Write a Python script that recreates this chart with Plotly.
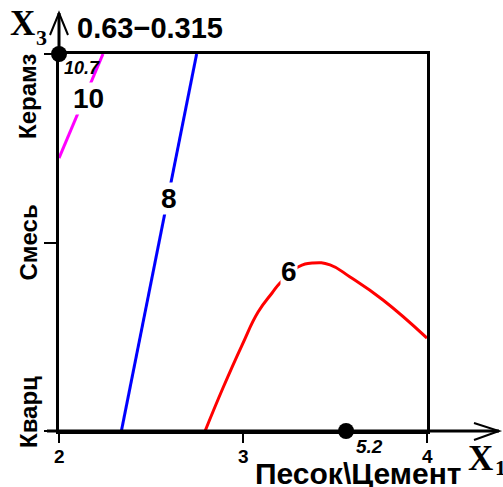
import plotly.graph_objects as go

# ---- data ----
x_ticks = [2, 3, 4]
x_tick_labels = ["2", "3", "4"]
y_ticks = [-1, 0, 1]
y_tick_labels = ["Кварц", "Смесь", "Керамз"]

c10_x = [2.0, 2.239]
c10_y = [0.448, 1.0]
c8_x = [2.339, 2.748]
c8_y = [-1.0, 1.0]
c6_x = [2.794, 2.891, 2.995, 3.082, 3.158, 3.201, 3.299, 3.380, 3.473, 3.582, 3.761, 4.0]
c6_y = [-1.0, -0.772, -0.544, -0.369, -0.268, -0.215, -0.130, -0.109, -0.119, -0.183, -0.305, -0.507]

contour_labels = ["10", "8", "6"]
contour_label_x = [2.158, 2.598, 3.250]
contour_label_y = [0.764, 0.233, -0.154]

opt_x = [2.0, 3.56]
opt_y = [1.0, -1.0]
opt_labels = ["10.7", "5.2"]

title_text = "0.63\u22120.315"
x_title = "Песок\\Цемент"

W, H = 503, 487
L, R, T, B = 59, 427, 54, 431


def px(xp):
    return (xp - L) / (R - L)


def py(yp):
    return (B - yp) / (B - T)


fig = go.Figure()
fig.add_trace(go.Scatter(x=c10_x, y=c10_y, mode="lines",
                         line=dict(color="#ff00ff", width=3), cliponaxis=False))
fig.add_trace(go.Scatter(x=c8_x, y=c8_y, mode="lines",
                         line=dict(color="#0000ff", width=3), cliponaxis=False))
fig.add_trace(go.Scatter(x=c6_x, y=c6_y, mode="lines",
                         line=dict(color="#ff0000", width=3, shape="spline", smoothing=1.3),
                         cliponaxis=False))
fig.add_trace(go.Scatter(x=opt_x, y=opt_y, mode="markers",
                         marker=dict(color="black", size=16), cliponaxis=False))

ann = []
for t, x, y in zip(contour_labels, contour_label_x, contour_label_y):
    ann.append(dict(x=x, y=y, text="<b>%s</b>" % t, showarrow=False,
                    xanchor="center", yanchor="middle",
                    font=dict(family="Liberation Sans", size=28, color="black"),
                    bgcolor="white", borderpad=0))
# optimum values
ann.append(dict(x=opt_x[0], y=opt_y[0], text="<b><i>%s</i></b>" % opt_labels[0], showarrow=False,
                xanchor="left", yanchor="top", xshift=3, yshift=-2,
                font=dict(family="Liberation Sans", size=18, color="black")))
ann.append(dict(x=opt_x[1], y=opt_y[1], text="<b><i>%s</i></b>" % opt_labels[1], showarrow=False,
                xanchor="left", yanchor="top", xshift=8, yshift=-3,
                font=dict(family="Liberation Sans", size=19, color="black")))
# x tick labels
for t, v in zip(x_tick_labels, x_ticks):
    ann.append(dict(x=v, y=py(457), yref="paper", text="<b>%s</b>" % t, showarrow=False,
                    xanchor="center", yanchor="middle",
                    font=dict(family="Liberation Sans", size=19, color="black")))
# y category labels
y_label_pos = [412, 242.5, 97]
for t, yp in zip(y_tick_labels, y_label_pos):
    ann.append(dict(x=px(28), y=py(yp), xref="paper", yref="paper", text="<b>%s</b>" % t,
                    textangle=-90, showarrow=False, xanchor="center", yanchor="middle",
                    font=dict(family="Liberation Sans", size=24, color="black")))
# title
ann.append(dict(x=px(150), y=py(28), xref="paper", yref="paper", text="<b>%s</b>" % title_text,
                showarrow=False, xanchor="center", yanchor="middle",
                font=dict(family="Liberation Sans", size=29, color="black")))
# x axis title
ann.append(dict(x=px(358), y=py(473), xref="paper", yref="paper", text="<b>%s</b>" % x_title,
                showarrow=False, xanchor="center", yanchor="middle",
                font=dict(family="Liberation Sans", size=30, color="black")))
# axis symbols
ann.append(dict(x=px(22.5), y=py(24), xref="paper", yref="paper", text="<b>X</b>",
                showarrow=False, xanchor="center", yanchor="middle",
                font=dict(family="Liberation Serif", size=35, color="black")))
ann.append(dict(x=px(41.5), y=py(37.5), xref="paper", yref="paper", text="<b>3</b>",
                showarrow=False, xanchor="center", yanchor="middle",
                font=dict(family="Liberation Serif", size=22, color="black")))
ann.append(dict(x=px(480.5), y=py(458), xref="paper", yref="paper", text="<b>X</b>",
                showarrow=False, xanchor="center", yanchor="middle",
                font=dict(family="Liberation Serif", size=35, color="black")))
ann.append(dict(x=px(500), y=py(467), xref="paper", yref="paper", text="<b>1</b>",
                showarrow=False, xanchor="center", yanchor="middle",
                font=dict(family="Liberation Serif", size=22, color="black")))

shapes = [
    # y axis extension + arrow
    dict(type="line", xref="paper", yref="paper", x0=0, x1=0, y0=1, y1=py(13),
         line=dict(color="black", width=3)),
    dict(type="path", xref="paper", yref="paper",
         path="M %f %f L %f %f L %f %f" % (px(50), py(35), px(59), py(13), px(68), py(35)),
         line=dict(color="black", width=2)),
    # x axis extension + arrow
    dict(type="line", xref="paper", yref="paper", x0=px(47), x1=px(499), y0=0, y1=0,
         line=dict(color="black", width=3)),
    dict(type="path", xref="paper", yref="paper",
         path="M %f %f L %f %f L %f %f" % (px(474), py(423), px(499), py(431), px(474), py(440)),
         line=dict(color="black", width=2)),
]

fig.update_layout(
    width=W, height=H,
    margin=dict(l=L, r=W - R, t=T, b=H - B),
    paper_bgcolor="white", plot_bgcolor="white",
    showlegend=False,
    annotations=ann, shapes=shapes,
    xaxis=dict(range=[2, 4], tickvals=x_ticks, showticklabels=False,
               showgrid=False, zeroline=False, showline=True, linecolor="black", linewidth=3,
               mirror=True, ticks="outside", ticklen=9, tickwidth=2, tickcolor="black"),
    yaxis=dict(range=[-1, 1], tickvals=y_ticks, showticklabels=False,
               showgrid=False, zeroline=False, showline=True, linecolor="black", linewidth=3,
               mirror=True, ticks="outside", ticklen=12, tickwidth=2, tickcolor="black"),
)

fig.write_html("out.html", config={"displayModeBar": False},
               post_script="document.body.style.margin='0';document.body.style.overflow='hidden';")
